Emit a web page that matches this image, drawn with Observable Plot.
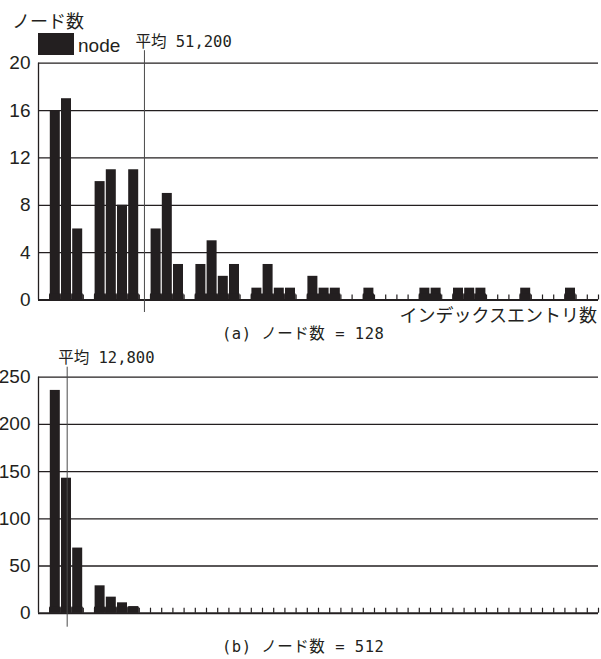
<!DOCTYPE html>
<html>
<head>
<meta charset="utf-8">
<script src="https://cdn.jsdelivr.net/npm/d3@7"></script>
<script src="https://cdn.jsdelivr.net/npm/@observablehq/plot@0.6"></script>
<style>
  body { margin: 0; background: #fff; }
  #wrap { position: relative; width: 601px; height: 659px; overflow: hidden; background: #fff;
          font-family: "Liberation Sans", Arial, sans-serif; color: #231f20; }
  .abs { position: absolute; white-space: pre; line-height: 1; }
  .jp { font-family: "Noto Sans CJK JP", sans-serif; }
  .mono { font-family: "DejaVu Sans Mono", "Noto Sans CJK JP", monospace; }
</style>
</head>
<body>
<div id="wrap">
  <div id="panelA" class="abs" style="left:0;top:0"></div>
  <div id="panelB" class="abs" style="left:0;top:340px"></div>
</div>
<script>
// ---- data ----
const nSlots = 50;                       // number of bins along the x axis
const slotIndex = d3.range(nSlots);
const countsA = [0,16,17,6,0,10,11,8,11,0, 6,9,3,0,3,5,2,3,0,1,
                 3,1,1,0,2,1,1,0,0,1, 0,0,0,0,1,1,0,1,1,1,
                 0,0,0,1,0,0,0,1,0,0];   // (a) 128 nodes
const countsB = [0,236,143,69,0,29,17,11,7,0, 0,0,0,0,0,0,0,0,0,0,
                 0,0,0,0,0,0,0,0,0,0, 0,0,0,0,0,0,0,0,0,0,
                 0,0,0,0,0,0,0,0,0,0];   // (b) 512 nodes
const yTicksA = [0,4,8,12,16,20];
const yTicksB = [0,50,100,150,200,250];
const meanPosA = [9.46];                 // position of the mean (in bins)
const meanPosB = [2.56];
const meanLabelA = "平均 51,200";
const meanLabelB = "平均 12,800";
const yTitle = "ノード数";
const xTitle = "インデックスエントリ数";
const legendLabel = "node";
const captionA = "(a) ノード数 = 128";
const captionB = "(b) ノード数 = 512";

const ink = "#231f20";

function panel(counts, yTicks, meanPos, meanLabel, o) {
  const data = slotIndex.map(i => ({i, v: counts[i]}));
  const nonzero = data.filter(d => d.v > 0);
  const boundaries = d3.range(1, nSlots + 1);
  return Plot.plot({
    width: 601, height: o.height,
    marginLeft: 38, marginRight: 3, marginTop: o.mt, marginBottom: o.mb,
    x: {domain: [0, nSlots], axis: null},
    y: {domain: [0, d3.max(yTicks)], ticks: yTicks, tickSize: 0, tickPadding: 8, label: null, tickFormat: d => String(d)},
    style: {fontFamily: "'Liberation Sans', Arial, sans-serif", fontSize: "19px", color: ink, background: "transparent", overflow: "visible"},
    marks: [
      Plot.ruleY(yTicks.filter(t => t > 0), {stroke: ink, strokeWidth: 1.3, strokeOpacity: 1}),
      Plot.ruleX(boundaries, {y1: 0, y2: 0, insetTop: -5, stroke: ink, strokeWidth: 1.2}),
      Plot.rectY(nonzero, {x1: "i", x2: d => d.i + 1, y: "v", fill: ink, insetLeft: 0.6, insetRight: 0.6}),
      Plot.rect(nonzero, {x1: "i", x2: d => d.i + 1, y1: 0, y2: 0, insetTop: -6, fill: ink}),
      Plot.ruleY([0], {stroke: ink, strokeWidth: 2}),
      Plot.ruleX([0], {stroke: ink, strokeWidth: 1.3}),
      Plot.ruleX(meanPos, {x: d => d, insetTop: o.lineTop, insetBottom: o.lineBottom, stroke: "#4a4a4a", strokeWidth: 1}),
      Plot.text(meanPos, {x: d => d, frameAnchor: "top", text: () => meanLabel, dx: -9, dy: o.labelDy,
                          textAnchor: "start", lineAnchor: "bottom",
                          fontFamily: "'DejaVu Sans Mono', 'Noto Sans CJK JP', monospace", fontSize: 15.5})
    ]
  });
}

document.getElementById("panelA").append(
  panel(countsA, yTicksA, meanPosA, meanLabelA, {height: 340, mt: 62.7, mb: 40.5, lineTop: -12.5, lineBottom: -12.5, labelDy: -16})
);
document.getElementById("panelB").append(
  panel(countsB, yTicksB, meanPosB, meanLabelB, {height: 319, mt: 36.7, mb: 46.3, lineTop: -10, lineBottom: -14, labelDy: -14})
);

// ---- texts / legend (outside the svgs) ----
const wrap = document.getElementById("wrap");
function addDiv(cls, style, text) {
  const d = document.createElement("div");
  d.className = cls; d.setAttribute("style", style);
  if (text != null) d.textContent = text;
  wrap.append(d);
}
addDiv("abs jp", "left:12px;top:11px;font-size:18px", yTitle);
addDiv("abs", `left:38px;top:33px;width:36px;height:22px;background:${ink}`);
addDiv("abs", "left:78px;top:36px;font-size:19px", legendLabel);
addDiv("abs jp", "right:4px;top:305px;font-size:18px", xTitle);
addDiv("abs mono", "left:222px;top:327px;font-size:15.5px;letter-spacing:0.5px", captionA);
addDiv("abs mono", "left:222px;top:640px;font-size:15.5px;letter-spacing:0.5px", captionB);
</script>
</body>
</html>
